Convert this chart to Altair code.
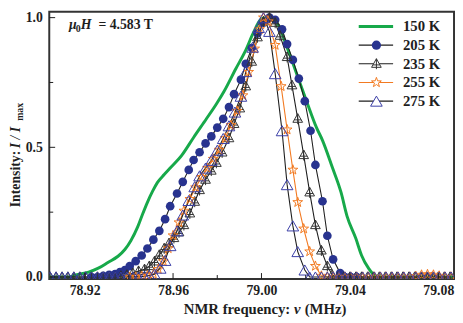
import altair as alt
import pandas as pd

SERIF = "Liberation Serif"

# ---------------- data (frequency in MHz, normalised intensity) ----------------
F150 = [78.9040, 78.9129, 78.9160, 78.9218, 78.9262, 78.9307, 78.9351, 78.9382, 78.9409, 78.9440,
        78.9462, 78.9484, 78.9507, 78.9529, 78.9560, 78.9587, 78.9640, 78.9693, 78.9751, 78.9796,
        78.9831, 78.9884, 78.9929, 78.9964, 78.9996, 79.0018, 79.0044, 79.0076, 79.0107, 79.0151,
        79.0204, 79.0249, 79.0276, 79.0320, 79.0360, 79.0387, 79.0427, 79.0453, 79.0484, 79.0516,
        79.0551, 79.0871]
I150 = [0, 0, 0.008, 0.019, 0.034, 0.057, 0.08, 0.106, 0.14, 0.193,
        0.242, 0.288, 0.33, 0.364, 0.395, 0.42, 0.47, 0.538, 0.61, 0.667,
        0.716, 0.803, 0.875, 0.943, 0.992, 1.0, 0.996, 0.973, 0.905, 0.803,
        0.678, 0.576, 0.527, 0.424, 0.326, 0.235, 0.148, 0.083, 0.034, 0.004,
        0, 0]

F205 = [78.9231, 78.9258, 78.9284, 78.9311, 78.9338, 78.9360, 78.9382, 78.9404, 78.9431, 78.9458,
        78.9484, 78.9511, 78.9538, 78.9564, 78.9587, 78.9618, 78.9644, 78.9671, 78.9693, 78.9720,
        78.9747, 78.9773, 78.9800, 78.9827, 78.9853, 78.9876, 78.9907, 78.9929, 78.9956, 78.9982,
        79.0009, 79.0036, 79.0062, 79.0093, 79.0116, 79.0142, 79.0169, 79.0196, 79.0222, 79.0244,
        79.0276, 79.0298, 79.0324, 79.0356, 79.0378, 79.0404, 79.0431]
I205 = [0, 0, 0.004, 0.008, 0.011, 0.019, 0.027, 0.042, 0.061, 0.083,
        0.11, 0.144, 0.178, 0.223, 0.273, 0.322, 0.367, 0.413, 0.451, 0.481,
        0.515, 0.542, 0.576, 0.61, 0.655, 0.705, 0.761, 0.822, 0.883, 0.939,
        0.981, 1.0, 0.992, 0.955, 0.898, 0.837, 0.765, 0.678, 0.564, 0.432,
        0.292, 0.159, 0.068, 0.015, 0, 0, 0]

F235 = [78.9044, 78.9071, 78.9098, 78.9124, 78.9151, 78.9178, 78.9204, 78.9231, 78.9258, 78.9284,
        78.9311, 78.9338, 78.9364, 78.9391, 78.9418, 78.9444, 78.9471, 78.9493, 78.9516, 78.9538,
        78.9560, 78.9582, 78.9604, 78.9627, 78.9649, 78.9676, 78.9698, 78.9720, 78.9747, 78.9773,
        78.9796, 78.9822, 78.9853, 78.9876, 78.9902, 78.9929, 78.9956, 78.9982, 79.0009, 79.0036,
        79.0062, 79.0084, 79.0116, 79.0138, 79.0164, 79.0191, 79.0218, 79.0244, 79.0271, 79.0298,
        79.0320, 79.0347, 79.0373, 79.0400, 79.0427, 79.0453, 79.0480, 79.0507, 79.0533, 79.0560,
        79.0587, 79.0613, 79.0640, 79.0667, 79.0693, 79.0720, 79.0747, 79.0773, 79.0800, 79.0827,
        79.0853]
I235 = [0, 0, 0, 0, 0, 0, 0, 0, 0, 0,
        0, 0, 0.004, 0.008, 0.015, 0.023, 0.03, 0.042, 0.06, 0.085,
        0.11, 0.13, 0.15, 0.172, 0.2, 0.245, 0.29, 0.335, 0.375, 0.41,
        0.44, 0.48, 0.535, 0.59, 0.65, 0.735, 0.83, 0.924, 0.985, 1.0,
        0.98, 0.93, 0.848, 0.739, 0.61, 0.47, 0.326, 0.2, 0.102, 0.042,
        0.008, 0, 0, 0, 0, 0, 0, 0, 0, 0,
        0, 0, 0, 0, 0, 0, 0, 0, 0, 0,
        0]

F255 = [78.9404, 78.9431, 78.9458, 78.9484, 78.9511, 78.9533, 78.9556, 78.9578, 78.9600, 78.9627,
        78.9649, 78.9676, 78.9702, 78.9729, 78.9756, 78.9782, 78.9809, 78.9836, 78.9862, 78.9889,
        78.9916, 78.9942, 78.9969, 78.9991, 79.0009, 79.0031, 79.0062, 79.0089, 79.0116, 79.0142,
        79.0164, 79.0191, 79.0218, 79.0244, 79.0271, 79.0298, 79.0324, 79.0351, 79.0378, 79.0404,
        79.0431, 79.0458, 79.0484, 79.0511, 79.0538, 79.0564, 79.0591, 79.0618, 79.0644, 79.0671,
        79.0698, 79.0724, 79.0751, 79.0778, 79.0804, 79.0831, 79.0858]
I255 = [0, 0, 0.003, 0.005, 0.011, 0.03, 0.06, 0.11, 0.16, 0.21,
        0.255, 0.3, 0.345, 0.385, 0.42, 0.455, 0.49, 0.535, 0.585, 0.64,
        0.7, 0.79, 0.88, 0.955, 1.0, 0.985, 0.894, 0.735, 0.568, 0.413,
        0.288, 0.186, 0.098, 0.042, 0.004, 0, 0, 0, 0, 0,
        0, 0, 0, 0, 0, 0, 0, 0, 0, 0,
        0.003, 0.008, 0.01, 0.008, 0.004, 0, 0]

F275 = [78.9044, 78.9071, 78.9098, 78.9124, 78.9151, 78.9178, 78.9204, 78.9231, 78.9258, 78.9284,
        78.9311, 78.9338, 78.9364, 78.9391, 78.9418, 78.9444, 78.9471, 78.9493, 78.9516, 78.9542,
        78.9564, 78.9587, 78.9618, 78.9644, 78.9671, 78.9698, 78.9720, 78.9747, 78.9773, 78.9800,
        78.9827, 78.9853, 78.9880, 78.9907, 78.9929, 78.9960, 78.9987, 79.0009, 79.0036, 79.0062,
        79.0093, 79.0116, 79.0142, 79.0164, 79.0196, 79.0218, 79.0244, 79.0271, 79.0298, 79.0324,
        79.0351, 79.0378, 79.0404, 79.0431, 79.0458, 79.0484, 79.0511, 79.0538, 79.0564, 79.0591,
        79.0618, 79.0644, 79.0671, 79.0698, 79.0724, 79.0751, 79.0778, 79.0804, 79.0831, 79.0858]
I275 = [0, 0, 0, 0, 0, 0, 0, 0, 0, 0,
        0, 0, 0, 0, 0, 0, 0.003, 0.006, 0.011, 0.034,
        0.064, 0.121, 0.178, 0.239, 0.295, 0.348, 0.39, 0.42, 0.45, 0.489,
        0.534, 0.583, 0.636, 0.697, 0.792, 0.886, 0.962, 1.0, 0.947, 0.784,
        0.564, 0.356, 0.197, 0.098, 0.027, 0, 0, 0, 0, 0,
        0, 0, 0, 0, 0, 0, 0, 0, 0, 0,
        0, 0, 0, 0, 0, 0, 0, 0, 0, 0]

LABELS = ["150 K", "205 K", "235 K", "255 K", "275 K"]
X_TICKS = [78.92, 78.96, 79.00, 79.04, 79.08]
X_MINOR = [78.94, 78.98, 79.02, 79.06]
Y_TICKS = [0.0, 0.5, 1.0]
Y_MINOR = [0.25, 0.75]

# ---------------- styling ----------------
GREEN = "#17a94a"
NAVY = "#28338f"
ORANGE = "#f27a22"
TRI_BLUE = "#3a3ea6"
DARK = "#1e1e1e"
STAR = ("M0,-1L0.235,-0.324L0.951,-0.309L0.38,0.124L0.588,0.809L0,0.4L-0.588,0.809"
        "L-0.38,0.124L-0.951,-0.309L-0.235,-0.324Z")
TRIPLUS = "M0,-0.95L0.9,0.65L-0.9,0.65Z M0,-0.95L0,1 M-0.65,0.2L0.65,0.2"

SZ_CIRCLE, SZ_TRIPLUS, SZ_STAR, SZ_TRI = 78, 120, 110, 140

W, H = 412, 272

xscale = alt.Scale(domain=[78.904, 79.0871], nice=False, zero=False)
yscale = alt.Scale(domain=[-0.0076, 1.0227], nice=False, zero=False)
xaxis = alt.Axis(values=X_TICKS, format=".2f", ticks=False, tickSize=0, domain=False, grid=False,
                 labelFont=SERIF, labelFontWeight="bold", labelFontSize=14, labelColor=DARK,
                 labelPadding=5, title=None)
yaxis = alt.Axis(values=Y_TICKS, format=".1f", ticks=False, tickSize=0, domain=False, grid=False,
                 labelFont=SERIF, labelFontWeight="bold", labelFontSize=14, labelColor=DARK,
                 labelPadding=7, title=None)
X = alt.X("f:Q", scale=xscale, axis=xaxis)
Y = alt.Y("v:Q", scale=yscale, axis=yaxis)


def sdf(f, v, name):
    return pd.DataFrame({"f": f, "v": v, "s": name})


d150 = sdf(F150, I150, LABELS[0])
d205 = sdf(F205, I205, LABELS[1])
d235 = sdf(F235, I235, LABELS[2])
d255 = sdf(F255, I255, LABELS[3])
d275 = sdf(F275, I275, LABELS[4])

layers = []
layers.append(alt.Chart(d150).mark_line(color=GREEN, strokeWidth=3, interpolate="monotone", clip=True)
              .encode(x=X, y=Y))
for d, col in [(d205, DARK), (d235, DARK), (d255, ORANGE), (d275, DARK)]:
    layers.append(alt.Chart(d).mark_line(color=col, strokeWidth=1.1, clip=True).encode(x=X, y=Y))

layers.append(alt.Chart(d205).mark_point(shape="circle", filled=True, color=NAVY, size=SZ_CIRCLE,
                                         opacity=1, clip=True).encode(x=X, y=Y))
layers.append(alt.Chart(d235).mark_point(shape=TRIPLUS, filled=False, stroke="#333333", strokeWidth=1,
                                         size=SZ_TRIPLUS, opacity=1, clip=True).encode(x=X, y=Y))
layers.append(alt.Chart(d255).mark_point(shape=STAR, filled=False, stroke=ORANGE, strokeWidth=1,
                                         size=SZ_STAR, opacity=1, clip=True).encode(x=X, y=Y))
layers.append(alt.Chart(d275).mark_point(shape="triangle-up", filled=False, stroke=TRI_BLUE, strokeWidth=1,
                                         size=SZ_TRI, opacity=1, clip=True).encode(x=X, y=Y))

# inward ticks drawn through the scales
layers.append(alt.Chart(pd.DataFrame({"f": X_TICKS})).mark_rule(color=DARK, strokeWidth=1)
              .encode(x=X, y=alt.value(H), y2=alt.value(H - 6)))
layers.append(alt.Chart(pd.DataFrame({"f": X_MINOR})).mark_rule(color=DARK, strokeWidth=1)
              .encode(x=X, y=alt.value(H), y2=alt.value(H - 4)))
layers.append(alt.Chart(pd.DataFrame({"v": Y_TICKS})).mark_rule(color=DARK, strokeWidth=1)
              .encode(y=Y, x=alt.value(0), x2=alt.value(6)))
layers.append(alt.Chart(pd.DataFrame({"v": Y_MINOR})).mark_rule(color=DARK, strokeWidth=1)
              .encode(y=Y, x=alt.value(0), x2=alt.value(4)))

one = pd.DataFrame({"k": [0]})


def txt(s, x, y, size=14, style="normal", angle=0, align="left", baseline="alphabetic"):
    return (alt.Chart(one)
            .mark_text(text=s, font=SERIF, fontSize=size, fontWeight="bold", fontStyle=style,
                       angle=angle, align=align, baseline=baseline, color=DARK)
            .encode(x=alt.value(x), y=alt.value(y)))


# field annotation  mu0 H = 4.583 T
layers += [
    txt("μ", 20, 18, style="italic"),
    txt("0", 27, 21, size=10),
    txt("H", 32, 18, style="italic"),
    txt("= 4.583 T", 50, 18),
]

# axis titles
layers += [
    txt("NMR frequency:", 137, 308, size=15),
    txt("ν", 249, 308, size=15, style="italic"),
    txt("(MHz)", 260, 308, size=15),
    txt("Intensity:", -30, 199, angle=270),
    txt("I / I", -30, 139, angle=270, style="italic"),
    txt("max", -27, 111, size=10, angle=270),
]

# legend
rows = [15, 34, 53, 72, 91]
leg_line = [(GREEN, 3), (DARK, 1.1), (DARK, 1.1), (ORANGE, 1.1), (DARK, 1.1)]
for i, lab in enumerate(LABELS):
    col, sw = leg_line[i]
    layers.append(alt.Chart(one).mark_rule(color=col, strokeWidth=sw)
                  .encode(x=alt.value(315), x2=alt.value(350), y=alt.value(rows[i])))
    layers.append(txt(lab, 360, rows[i], size=15, baseline="middle"))
marker_specs = [
    None,
    dict(shape="circle", filled=True, color=NAVY, size=SZ_CIRCLE + 10),
    dict(shape=TRIPLUS, filled=False, stroke="#333333", strokeWidth=1, size=SZ_TRIPLUS),
    dict(shape=STAR, filled=False, stroke=ORANGE, strokeWidth=1, size=SZ_STAR),
    dict(shape="triangle-up", filled=False, stroke=TRI_BLUE, strokeWidth=1, size=SZ_TRI),
]
for i, spec in enumerate(marker_specs):
    if spec is None:
        continue
    layers.append(alt.Chart(one).mark_point(opacity=1, fill="white" if not spec.get("filled") else NAVY, **spec)
                  .encode(x=alt.value(333), y=alt.value(rows[i])))

chart = (alt.layer(*layers)
         .properties(width=W, height=H, autosize=alt.AutoSizeParams(type="none"),
                     padding={"left": 42, "top": 1, "right": 1, "bottom": 42})
         .configure_view(stroke="#333333", strokeWidth=2))

chart.save("out.html", embed_options={"renderer": "svg", "actions": False})
